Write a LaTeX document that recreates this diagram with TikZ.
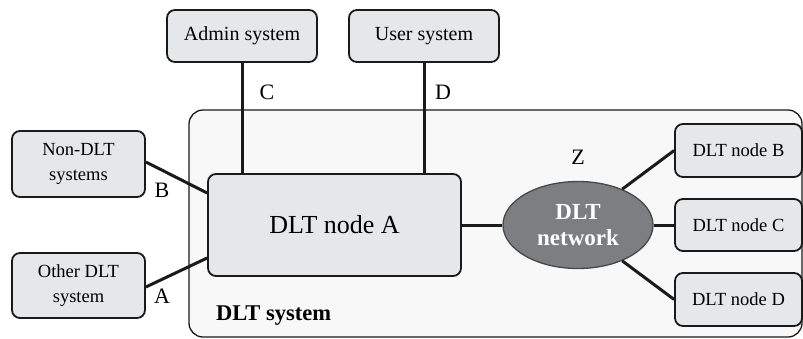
\documentclass[tikz,border=0pt]{standalone}
\usepackage{fontspec}
\setmainfont{Liberation Serif}
\usetikzlibrary{shapes.geometric}

\definecolor{boxfill}{HTML}{E6E7E8}
\definecolor{sysfill}{HTML}{F8F8F8}
\definecolor{netfill}{HTML}{7D7E80}
\definecolor{ink}{HTML}{1A1A1A}

\tikzset{
  sysbox/.style={draw=ink, line width=1.8pt, fill=boxfill, rounded corners=8pt,
    align=center, inner sep=0pt, font=\fontsize{18.5}{25}\selectfont},
  link/.style={draw=ink, line width=3pt},
  tag/.style={font=\fontsize{22}{24}\selectfont, inner sep=0pt}
}

\begin{document}
\begin{tikzpicture}[x=1pt, y=-1pt]
  \useasboundingbox (0,0) rectangle (803,338);

  % DLT system boundary
  \draw[draw=ink, line width=1.3pt, fill=sysfill, rounded corners=14pt]
    (189,110) rectangle (802,337);
  \node[anchor=base west, font=\fontsize{22.5}{26}\selectfont\bfseries, inner sep=0pt]
    (syslabel) at (216,320) {DLT system};

  % boxes
  \node[sysbox, minimum width=150pt, minimum height=52pt, font=\fontsize{20}{24}\selectfont]
    (admin) at (242,36) {Admin system};
  \node[sysbox, minimum width=150pt, minimum height=52pt, font=\fontsize{20}{24}\selectfont]
    (user) at (424,36) {User system};
  \node[sysbox, minimum width=133pt, minimum height=66pt] (nondlt) at (78.5,164) {Non-DLT\\systems};
  \node[sysbox, minimum width=133pt, minimum height=65pt] (other) at (78.5,285.5) {Other DLT\\system};
  \node[sysbox, minimum width=253pt, minimum height=102pt, font=\fontsize{26}{30}\selectfont]
    (nodeA) at (334.5,225) {DLT node A};
  \node[sysbox, minimum width=127pt, minimum height=53pt] (nodeB) at (738.5,150.5) {DLT node B};
  \node[sysbox, minimum width=127pt, minimum height=52pt] (nodeC) at (738.5,225) {DLT node C};
  \node[sysbox, minimum width=127pt, minimum height=53pt] (nodeD) at (738.5,299.5) {DLT node D};
  \node[ellipse, draw=ink!80, line width=1.3pt, fill=netfill, minimum width=150pt,
    minimum height=87pt, inner sep=0pt, align=center, text=white,
    font=\fontsize{23}{26}\selectfont\bfseries] (net) at (578,225) {DLT\\network};

  % connectors
  \draw[link] (admin.south) -- (admin.south |- nodeA.north);
  \draw[link] (user.south) -- (user.south |- nodeA.north);
  \draw[link] ([yshift=2pt]nondlt.east) -- ([yshift=32pt]nodeA.west);
  \draw[link] ([yshift=-1.5pt]other.east) -- ([yshift=-33pt]nodeA.west);
  \draw[link] (nodeA.east) -- (net.west);
  \draw[link] (net.39) -- (nodeB.west);
  \draw[link] (net.east) -- (nodeC.west);
  \draw[link] (net.-39) -- (nodeD.west);

  % interface labels
  \node[tag] (lC) at (267,92) {C};
  \node[tag] (lD) at (443,92) {D};
  \node[tag] (lZ) at (578,157) {Z};
  \node[tag] (lB) at (162,190) {B};
  \node[tag] (lA) at (162,296) {A};
\end{tikzpicture}
\end{document}
